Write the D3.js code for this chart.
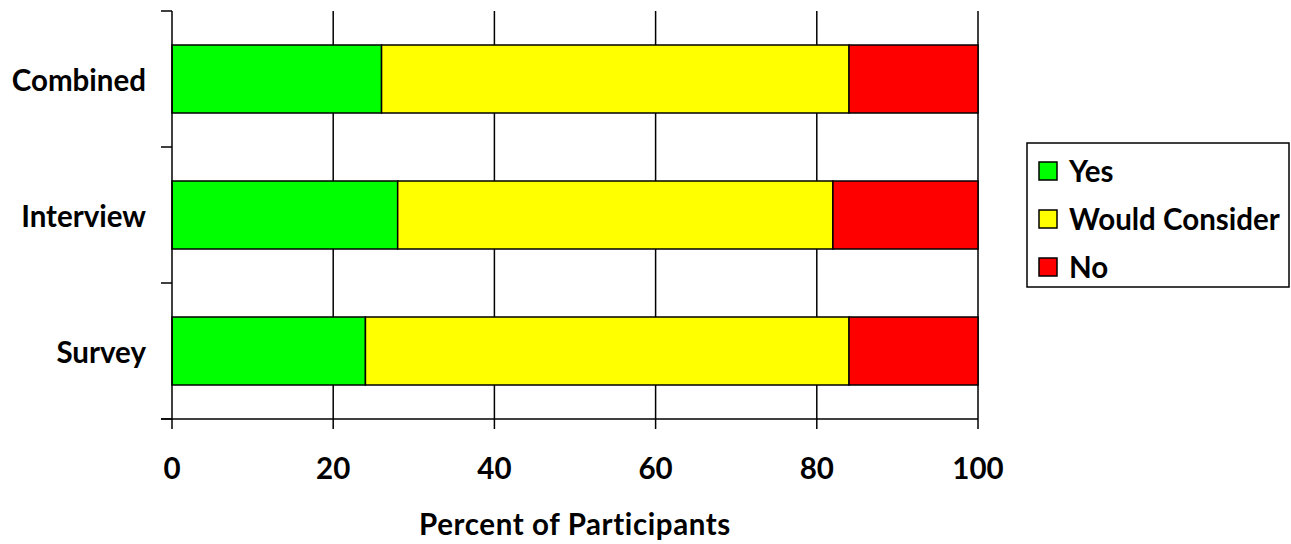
<!DOCTYPE html>
<html>
<head>
<meta charset="utf-8">
<script src="https://cdn.jsdelivr.net/npm/d3@7"></script>
<style>
  html, body { margin: 0; padding: 0; background: #fff; }
  svg { display: block; font-family: Lato, "Open Sans", sans-serif; font-weight: bold; }
</style>
</head>
<body>
<svg id="chart" width="1291" height="544"></svg>
<script>
// Response categories (top to bottom) and series shares in percent
const categories = ["Combined", "Interview", "Survey"];
const seriesNames = ["Yes", "Would Consider", "No"];
const yesValues = [26, 28, 24];
const considerValues = [58, 54, 60];
const noValues = [16, 18, 16];
const seriesColors = ["#00ff00", "#ffff00", "#ff0000"];
const xTicks = [0, 20, 40, 60, 80, 100];
const xTitle = "Percent of Participants";

const svg = d3.select("#chart");
const margin = { left: 172, right: 313, top: 11, bottom: 125 };
const W = 1291, H = 544;
const plotW = W - margin.left - margin.right;
const plotH = H - margin.top - margin.bottom;
const fontSize = 29.5;

const rows = categories.map((c, i) => ({
  category: c,
  "Yes": yesValues[i],
  "Would Consider": considerValues[i],
  "No": noValues[i]
}));
const stacked = d3.stack().keys(seriesNames)(rows);

const x = d3.scaleLinear().domain([0, 100]).range([0, plotW]);
const y = d3.scaleBand().domain(categories).range([0, plotH]).paddingInner(0.5).paddingOuter(0.25);
const yBand = d3.scaleBand().domain(categories).range([0, plotH]);

const g = svg.append("g").attr("transform", `translate(${margin.left},${margin.top})`);

// vertical gridlines
g.append("g").selectAll("line")
  .data(xTicks.slice(1))
  .join("line")
  .attr("x1", d => x(d)).attr("x2", d => x(d))
  .attr("y1", 0).attr("y2", plotH)
  .attr("stroke", "#000").attr("stroke-width", 1.5);

// stacked bars
g.append("g").selectAll("g")
  .data(stacked)
  .join("g")
  .attr("fill", (d, i) => seriesColors[i])
  .selectAll("rect")
  .data(d => d)
  .join("rect")
  .attr("x", d => x(d[0]))
  .attr("width", d => x(d[1]) - x(d[0]))
  .attr("y", d => y(d.data.category))
  .attr("height", y.bandwidth())
  .attr("stroke", "#000")
  .attr("stroke-width", 1.5);

// y axis with ticks at band boundaries
const yBounds = categories.map(c => yBand(c)).concat([plotH]);
g.append("line").attr("x1", 0).attr("x2", 0).attr("y1", 0).attr("y2", plotH)
  .attr("stroke", "#000").attr("stroke-width", 1.5);
g.append("g").selectAll("line").data(yBounds).join("line")
  .attr("x1", -11).attr("x2", 0).attr("y1", d => d).attr("y2", d => d)
  .attr("stroke", "#000").attr("stroke-width", 1.5);
g.append("g").selectAll("text").data(categories).join("text")
  .attr("x", -26)
  .attr("y", d => y(d) + y.bandwidth() / 2 + 2)
  .attr("dy", "0.35em")
  .attr("text-anchor", "end")
  .attr("font-size", fontSize)
  .text(d => d);

// x axis
g.append("line").attr("x1", -11).attr("x2", plotW).attr("y1", plotH).attr("y2", plotH)
  .attr("stroke", "#000").attr("stroke-width", 1.5);
g.append("g").selectAll("line").data(xTicks).join("line")
  .attr("x1", d => x(d)).attr("x2", d => x(d)).attr("y1", plotH).attr("y2", plotH + 10)
  .attr("stroke", "#000").attr("stroke-width", 1.5);
g.append("g").selectAll("text").data(xTicks).join("text")
  .attr("x", d => x(d))
  .attr("y", plotH + 60)
  .attr("text-anchor", "middle")
  .attr("font-size", fontSize)
  .text(d => d);

svg.append("text")
  .attr("x", margin.left + plotW / 2)
  .attr("y", 535)
  .attr("text-anchor", "middle")
  .attr("font-size", fontSize)
  .attr("letter-spacing", 0.6)
  .text(xTitle);

// legend
const legend = svg.append("g").attr("transform", "translate(1027,143)");
legend.append("rect").attr("width", 262).attr("height", 144)
  .attr("fill", "#fff").attr("stroke", "#000").attr("stroke-width", 1.5);
const items = legend.selectAll("g.item").data(seriesNames).join("g")
  .attr("class", "item")
  .attr("transform", (d, i) => `translate(12,${19 + i * 48})`);
items.append("rect").attr("width", 18).attr("height", 18)
  .attr("fill", (d, i) => seriesColors[i]).attr("stroke", "#000").attr("stroke-width", 1.5);
items.append("text").attr("x", 30).attr("y", 10).attr("dy", "0.35em")
  .attr("font-size", fontSize).text(d => d);
</script>
</body>
</html>
